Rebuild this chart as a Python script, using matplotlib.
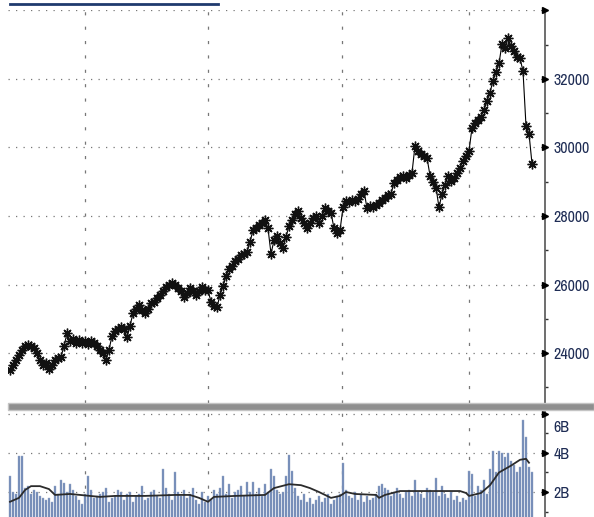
import matplotlib
matplotlib.use("Agg")
import numpy as np
from matplotlib import pyplot as plt
from matplotlib import transforms
from matplotlib import font_manager as fm
from matplotlib.patches import Rectangle
from matplotlib.lines import Line2D

# 收盘价（指数点位）
price = [23500, 23650, 23800, 23950, 24100, 24200, 24250, 24200, 24150, 24000,
         23800, 23650, 23700, 23550, 23650, 23800, 23850, 23900, 24200, 24580,
         24350, 24400, 24300, 24380, 24300, 24350, 24280, 24350, 24300, 24200,
         24100, 24000, 23800, 24100, 24500, 24650, 24700, 24750, 24700, 24460,
         24800, 25160, 25300, 25400, 25250, 25160, 25300, 25450, 25500, 25600,
         25690, 25800, 25920, 26000, 26060, 26000, 25900, 25800, 25650, 25750,
         25890, 25800, 25690, 25800, 25920, 25850, 25830, 25500, 25380, 25340,
         25700, 25950, 26250, 26450, 26550, 26700, 26760, 26850, 26900, 26940,
         27250, 27580, 27650, 27750, 27810, 27870, 27640, 26900, 27290, 27430,
         27200, 27080, 27400, 27700, 27870, 28050, 28160, 27950, 27800, 27640,
         27800, 27950, 28010, 27810, 28000, 28220, 28150, 28100, 27640, 27490,
         27580, 28250, 28450, 28400, 28480, 28450, 28500, 28650, 28740, 28220,
         28300, 28250, 28320, 28390, 28480, 28540, 28600, 28650, 28970, 29050,
         29150, 29180, 29120, 29200, 29260, 30050, 29900, 29820, 29750, 29700,
         29180, 29000, 28830, 28250, 28650, 28900, 29180, 29030, 29100, 29260,
         29400, 29610, 29750, 29900, 30570, 30700, 30800, 30900, 31100, 31350,
         31600, 31950, 32200, 32450, 33020, 32900, 33190, 32950, 32810, 32650,
         32600, 32230, 30630, 30400, 29530]

# 成交量（十亿）
volume = [2.8, 2.0, 1.9, 3.85, 3.85, 2.2, 2.3, 1.9, 2.1, 2.0,
          1.8, 1.7, 1.6, 1.7, 1.5, 2.3, 1.9, 2.6, 2.45, 2.0,
          2.4, 2.1, 1.8, 1.6, 1.4, 1.9, 2.8, 2.1, 1.7, 1.8,
          1.9, 2.0, 2.2, 1.5, 1.7, 1.8, 2.1, 2.0, 1.6, 1.9,
          2.0, 1.5, 1.8, 1.9, 2.3, 1.6, 1.7, 2.0, 2.1, 1.8,
          1.7, 3.2, 2.2, 1.9, 1.6, 3.0, 2.0, 1.8, 2.1, 1.7,
          1.9, 2.2, 1.6, 1.4, 2.0, 1.5, 1.8, 1.6, 2.1, 1.9,
          2.2, 2.8, 1.9, 2.4, 1.7, 2.0, 2.1, 2.3, 1.8, 2.5,
          2.0, 2.5, 1.9, 2.2, 1.8, 2.4, 2.0, 3.2, 2.8, 2.1,
          1.9, 2.0, 2.8, 3.9, 3.1, 2.2, 1.8, 1.6, 1.9, 1.5,
          1.7, 1.4, 1.6, 1.8, 1.5, 1.7, 1.9, 1.4, 1.6, 1.8,
          1.9, 3.5, 2.1, 1.8, 1.7, 2.0, 1.6, 1.9, 1.5, 1.8,
          1.6, 1.7, 1.9, 2.3, 2.4, 2.2, 2.1, 1.8, 2.0, 2.2,
          1.9, 1.7, 2.0, 2.1, 1.8, 2.6, 2.0, 1.9, 1.7, 2.2,
          2.1, 2.0, 2.7, 1.8, 2.3, 1.9, 1.7, 2.0, 1.6, 1.8,
          1.5, 1.7, 1.6, 3.1, 2.9, 1.8, 2.3, 2.1, 2.6, 1.9,
          3.2, 4.1, 3.0, 4.1, 4.0, 3.8, 4.0, 3.6, 3.4, 3.0,
          3.3, 5.7, 4.8, 3.3, 3.0]

# 成交量均线（读取的点）
ma_idx = [0, 3, 5, 7, 10, 13, 15, 20, 30, 35, 45, 55, 60, 63, 66, 68, 75, 85,
          88, 93, 97, 100, 103, 107, 110, 112, 115, 122, 123, 125, 130, 150,
          152, 153, 157, 160, 163, 167, 170, 172, 173]
ma_val = [1.5, 1.7, 2.1, 2.3, 2.3, 2.15, 1.85, 1.9, 1.75, 1.8, 1.8, 1.85, 1.85,
          1.7, 1.5, 1.75, 1.8, 1.85, 2.2, 2.4, 2.35, 2.2, 2.0, 1.7, 1.8, 2.0,
          1.9, 1.85, 1.7, 1.85, 2.05, 2.05, 1.95, 1.8, 1.95, 2.35, 3.0, 3.35,
          3.65, 3.7, 3.5]

price_ticks = [24000, 26000, 28000, 30000, 32000]
price_labels = ["24000", "26000", "28000", "30000", "32000"]
vol_ticks = [2, 4, 6]
vol_labels = ["2B", "4B", "6B"]
xgrid = [25, 66, 110.7, 153]

# 找窄体字体给坐标标签用，Narrow 优先
def find_font(key):
    for f in fm.fontManager.ttflist:
        fn = f.fname.lower()
        if key in fn and f.style == "normal" and "mono" not in fn \
                and f.weight in (400, "normal", "regular"):
            return f.fname
    return None

narrow = find_font("narrow")
if narrow:
    lab_prop = fm.FontProperties(fname=narrow, size=11.5)
else:
    cond = find_font("condensed")
    if cond:
        lab_prop = fm.FontProperties(fname=cond, size=9)
    else:
        lab_prop = fm.FontProperties(family="DejaVu Sans", size=7.5)

W, H = 594, 517
fig = plt.figure(figsize=(W / 100, H / 100), dpi=100)
left = 8 / W
width = (545 - 8) / W
ax = fig.add_axes([left, 1 - 403 / H, width, (403 - 10) / H])
axv = fig.add_axes([left, 0, width, 1 - 410 / H])

x = np.arange(len(price))
xlim = ((8 - 10) / 3, (545 - 10) / 3)

grid_c = "#777777"
lab_c = "#1f2d55"

# 价格图
ax.plot(x, price, color="black", lw=0.8, marker=(8, 2, 0), ms=7,
        mew=1.0, mec="#111111", zorder=3)
ax.set_xlim(xlim)
ax.set_ylim(22545, 34010)
for v in price_ticks + [34000]:
    ax.axhline(v, color=grid_c, lw=0.9, ls=(0, (1, 5)), zorder=1)
for g in xgrid:
    ax.axvline(g, color=grid_c, lw=0.9, ls=(0, (2.5, 9)), zorder=1)

# 成交量图
axv.bar(np.arange(len(volume)), volume, width=0.72, color="#7088b6",
        edgecolor="#9aacc9", linewidth=0.3, zorder=2)
axv.plot(ma_idx, ma_val, color="#2b2b2b", lw=1.3, zorder=3)
axv.set_xlim(xlim)
axv.set_ylim(0.72, 6.2)
for v in vol_ticks:
    axv.axhline(v, color=grid_c, lw=0.9, ls=(0, (1, 5)), zorder=1)
for g in xgrid:
    axv.axvline(g, color=grid_c, lw=0.9, ls=(0, (2.5, 9)), zorder=1)

for a, ticks, labels, minors in [
        (ax, price_ticks, price_labels, [23000, 25000, 27000, 29000, 31000, 33000]),
        (axv, vol_ticks, vol_labels, [1, 3, 5])]:
    for s in ["left", "top", "bottom"]:
        a.spines[s].set_visible(False)
    a.spines["right"].set_color("#555555")
    a.spines["right"].set_linewidth(1.2)
    a.set_xticks([])
    a.yaxis.tick_right()
    a.set_yticks(ticks)
    a.set_yticklabels(labels, fontproperties=lab_prop, color=lab_c)
    a.set_yticks(minors, minor=True)
    a.tick_params(axis="y", which="major", length=0, pad=6)
    a.tick_params(axis="y", which="minor", length=2.5, width=1.0,
                  direction="out", color="#333333")
    tr = transforms.blended_transform_factory(a.transAxes, a.transData)
    arrows = ticks + ([34000] if a is ax else [])
    a.plot([1.0] * len(arrows), arrows, ls="none", marker=">", ms=5,
           color="black", transform=tr, clip_on=False, zorder=5)

# 6B 标签往下挪一点，避开分隔条
lab6 = axv.get_yticklabels()[-1]
lab6.set_transform(lab6.get_transform() +
                   transforms.ScaledTranslation(0, -9 / 72, fig.dpi_scale_trans))

# 分隔条
fig.add_artist(Rectangle((left, 1 - 410 / H), 1 - left, 7 / H,
                         transform=fig.transFigure, facecolor="#8f8f8f",
                         edgecolor="#c4c4c4", linewidth=1.0, zorder=10))
# 标题下划线
fig.add_artist(Line2D([10 / W, 218 / W], [1 - 3.5 / H, 1 - 3.5 / H],
                      transform=fig.transFigure, color="#1f3a6e", lw=2.0))

fig.savefig("out.png", dpi=100)
